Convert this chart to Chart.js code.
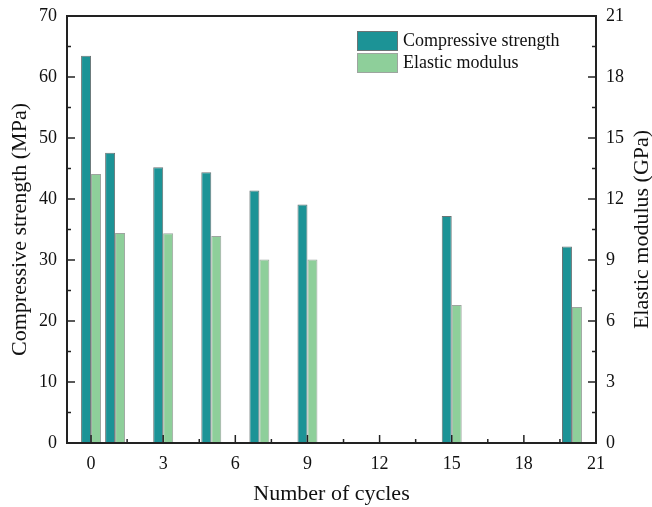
<!DOCTYPE html>
<html>
<head>
<meta charset="utf-8">
<script src="https://cdn.jsdelivr.net/npm/chart.js@4.4.1/dist/chart.umd.min.js"></script>
<style>
  html, body { margin: 0; padding: 0; background: #fff; }
  #wrap { width: 652px; height: 507px; }
</style>
</head>
<body>
<div id="wrap"><canvas id="chart"></canvas></div>
<script>
// data
var cycles = [0, 1, 3, 5, 7, 9, 15, 20];
var strength = [63.5, 47.6, 45.2, 44.4, 41.4, 39.1, 37.2, 32.2];   // MPa
var modulus = [13.23, 10.33, 10.31, 10.18, 9.03, 9.03, 6.79, 6.69]; // GPa
var xTicks = [0, 3, 6, 9, 12, 15, 18, 21];
var leftTicks = [0, 10, 20, 30, 40, 50, 60, 70];
var rightTicks = [0, 3, 6, 9, 12, 15, 18, 21];

var serif = '"Liberation Serif", "Times New Roman", serif';

// frame, inward ticks (major + minor), legend and right-hand title
var decorations = {
    id: 'decorations',
    afterDatasetsDraw: function (chart) {
        var ctx = chart.ctx;
        var a = chart.chartArea;
        var sx = chart.scales.x, sy = chart.scales.y, sy2 = chart.scales.y2;
        ctx.save();
        ctx.strokeStyle = '#222';
        ctx.lineWidth = 1.5;

        function tick(x1, y1, x2, y2) {
            ctx.beginPath();
            ctx.moveTo(x1, y1);
            ctx.lineTo(x2, y2);
            ctx.stroke();
        }
        // bottom axis
        xTicks.forEach(function (v, i) {
            var p = sx.getPixelForValue(v);
            tick(p, a.bottom, p, a.bottom - 8);
            if (i < xTicks.length - 1) {
                var m = sx.getPixelForValue(v + 1.5);
                tick(m, a.bottom, m, a.bottom - 4);
            }
        });
        // left axis
        leftTicks.forEach(function (v, i) {
            var p = sy.getPixelForValue(v);
            tick(a.left, p, a.left + 8, p);
            if (i < leftTicks.length - 1) {
                var m = sy.getPixelForValue(v + 5);
                tick(a.left, m, a.left + 4, m);
            }
        });
        // right axis
        rightTicks.forEach(function (v, i) {
            var p = sy2.getPixelForValue(v);
            tick(a.right, p, a.right - 8, p);
            if (i < rightTicks.length - 1) {
                var m = sy2.getPixelForValue(v + 1.5);
                tick(a.right, m, a.right - 4, m);
            }
        });
        // frame
        ctx.lineWidth = 2;
        ctx.strokeRect(a.left, a.top, a.right - a.left, a.bottom - a.top);

        // legend
        var lx = a.left + 290, ly = a.top + 15;
        ctx.font = '18px ' + serif;
        ctx.textBaseline = 'middle';
        ctx.textAlign = 'left';
        chart.data.datasets.forEach(function (ds, i) {
            var y = ly + i * 22;
            ctx.fillStyle = ds.backgroundColor;
            ctx.fillRect(lx, y, 41, 20);
            ctx.lineWidth = 1;
            ctx.strokeStyle = ds.borderColor;
            ctx.strokeRect(lx + 0.5, y + 0.5, 40, 19);
            ctx.fillStyle = '#111';
            ctx.fillText(ds.label, lx + 46, y + 10);
        });

        // right axis title, reading bottom to top like the left one
        ctx.save();
        ctx.translate(642, (a.top + a.bottom) / 2);
        ctx.rotate(-Math.PI / 2);
        ctx.textAlign = 'center';
        ctx.textBaseline = 'middle';
        ctx.font = '22px ' + serif;
        ctx.fillStyle = '#111';
        ctx.fillText('Elastic modulus (GPa)', 0, 0);
        ctx.restore();

        ctx.restore();
    }
};

var tickFont = { family: serif, size: 18 };

function fixHeight(h) {
    return function (s) { s.height = h; s.paddingLeft = 0; s.paddingRight = 0; };
}
function fixWidth(w) {
    return function (s) { s.width = w; s.paddingTop = 0; s.paddingBottom = 0; };
}

var ctx = document.getElementById('chart').getContext('2d');
var chart = new Chart(ctx, {
    type: 'bar',
    data: {
        datasets: [
            {
                label: 'Compressive strength',
                data: cycles.map(function (c, i) { return { x: c, y: strength[i] }; }),
                backgroundColor: '#1c9396',
                borderColor: '#6a7475',
                borderWidth: 1,
                yAxisID: 'y',
                categoryPercentage: 0.83,
                barPercentage: 1
            },
            {
                label: 'Elastic modulus',
                data: cycles.map(function (c, i) { return { x: c, y: modulus[i] }; }),
                backgroundColor: '#8ecf9a',
                borderColor: '#9da59f',
                borderWidth: 1,
                yAxisID: 'y2',
                categoryPercentage: 0.83,
                barPercentage: 1
            }
        ]
    },
    options: {
        responsive: true,
        maintainAspectRatio: false,
        animation: false,
        layout: { padding: { top: 16 } },
        scales: {
            x: {
                type: 'linear',
                offset: false,
                min: -1,
                max: 21,
                afterBuildTicks: function (s) { s.ticks = xTicks.map(function (v) { return { value: v }; }); },
                afterFit: fixHeight(64),
                grid: { display: false, drawTicks: false },
                border: { display: false },
                ticks: { color: '#111', padding: 10, font: tickFont },
                title: {
                    display: true,
                    text: 'Number of cycles',
                    color: '#111',
                    padding: { bottom: 0 },
                    font: { family: serif, size: 22 }
                }
            },
            y: {
                position: 'left',
                min: 0,
                max: 70,
                afterBuildTicks: function (s) { s.ticks = leftTicks.map(function (v) { return { value: v }; }); },
                afterFit: fixWidth(67),
                grid: { display: false, drawTicks: false },
                border: { display: false },
                ticks: { color: '#111', padding: 10, font: tickFont },
                title: {
                    display: true,
                    text: 'Compressive strength (MPa)',
                    color: '#111',
                    padding: { top: 7 },
                    font: { family: serif, size: 22 }
                }
            },
            y2: {
                position: 'right',
                min: 0,
                max: 21,
                afterBuildTicks: function (s) { s.ticks = rightTicks.map(function (v) { return { value: v }; }); },
                afterFit: fixWidth(56),
                grid: { display: false, drawTicks: false },
                border: { display: false },
                ticks: { color: '#111', padding: 10, font: tickFont }
            }
        },
        plugins: {
            legend: { display: false },
            tooltip: { enabled: false }
        }
    },
    plugins: [decorations]
});
</script>
</body>
</html>
